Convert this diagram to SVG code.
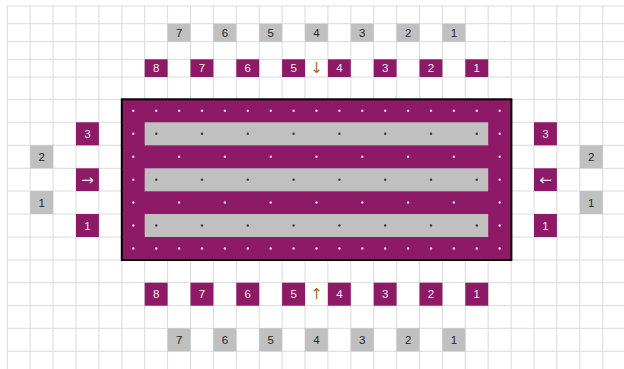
<svg xmlns="http://www.w3.org/2000/svg" xmlns:xlink="http://www.w3.org/1999/xlink" width="624" height="369" viewBox="0 0 624 369">
<style>
.grid{stroke:#dadada;stroke-width:1;fill:none}
.p{fill:#8e1a67}
.g{fill:#c0c0c0}
.tp{font-family:"Liberation Sans",Arial,sans-serif;font-size:11.5px;fill:#f4eaf0;text-anchor:middle;dominant-baseline:central}
.tg{font-family:"Liberation Sans",Arial,sans-serif;font-size:11.5px;fill:#262626;text-anchor:middle;dominant-baseline:central}
.ar{font-family:"DejaVu Sans",sans-serif;font-size:15px;fill:#a8692a;text-anchor:middle;dominant-baseline:central}
.arw{font-family:"DejaVu Sans",sans-serif;font-size:15px;fill:#f4eaf0;text-anchor:middle;dominant-baseline:central}
</style>
<defs>
<circle id="w" r="1.2" fill="#f2d6e6"/>
<circle id="d" r="1.2" fill="#3a3a3a"/>
</defs>
<rect width="624" height="369" fill="#ffffff"/>
<path class="grid" d="M7.3 6V369M30.2 6V369M53.1 6V369M76 6V369M98.9 6V369M121.8 6V369M144.7 6V369M167.6 6V369M190.5 6V369M213.4 6V369M236.3 6V369M259.2 6V369M282.1 6V369M305 6V369M327.9 6V369M350.8 6V369M373.7 6V369M396.6 6V369M419.5 6V369M442.4 6V369M465.3 6V369M488.2 6V369M511.1 6V369M534 6V369M556.9 6V369M579.8 6V369M602.7 6V369M7.3 6H624M7.3 23.7H624M7.3 41.7H624M7.3 59.3H624M7.3 77H624M7.3 99.3H624M7.3 122.3H624M7.3 145.3H624M7.3 168.3H624M7.3 191H624M7.3 214H624M7.3 237H624M7.3 260H624M7.3 282.7H624M7.3 305.7H624M7.3 328.3H624M7.3 351.3H624"/>

<g id="block">
<rect class="p" x="121.8" y="99.3" width="389.6" height="160.7" stroke="#000" stroke-width="2"/>
<rect class="g" x="144.7" y="122.3" width="343.5" height="23"/>
<rect class="g" x="144.7" y="168.3" width="343.5" height="23"/>
<rect class="g" x="144.7" y="214" width="343.5" height="23"/>
<g id="dots">
<use href="#w" x="133.3" y="110.8"/><use href="#w" x="156.2" y="110.8"/><use href="#w" x="179.1" y="110.8"/><use href="#w" x="202" y="110.8"/><use href="#w" x="224.9" y="110.8"/><use href="#w" x="247.8" y="110.8"/><use href="#w" x="270.7" y="110.8"/><use href="#w" x="293.6" y="110.8"/><use href="#w" x="316.5" y="110.8"/><use href="#w" x="339.4" y="110.8"/><use href="#w" x="362.3" y="110.8"/><use href="#w" x="385.2" y="110.8"/><use href="#w" x="408.1" y="110.8"/><use href="#w" x="431" y="110.8"/><use href="#w" x="453.9" y="110.8"/><use href="#w" x="476.8" y="110.8"/><use href="#w" x="499.7" y="110.8"/>
<use href="#w" x="133.3" y="248.5"/><use href="#w" x="156.2" y="248.5"/><use href="#w" x="179.1" y="248.5"/><use href="#w" x="202" y="248.5"/><use href="#w" x="224.9" y="248.5"/><use href="#w" x="247.8" y="248.5"/><use href="#w" x="270.7" y="248.5"/><use href="#w" x="293.6" y="248.5"/><use href="#w" x="316.5" y="248.5"/><use href="#w" x="339.4" y="248.5"/><use href="#w" x="362.3" y="248.5"/><use href="#w" x="385.2" y="248.5"/><use href="#w" x="408.1" y="248.5"/><use href="#w" x="431" y="248.5"/><use href="#w" x="453.9" y="248.5"/><use href="#w" x="476.8" y="248.5"/><use href="#w" x="499.7" y="248.5"/>
<use href="#w" x="133.3" y="156.8"/><use href="#w" x="179.1" y="156.8"/><use href="#w" x="224.9" y="156.8"/><use href="#w" x="270.7" y="156.8"/><use href="#w" x="316.5" y="156.8"/><use href="#w" x="362.3" y="156.8"/><use href="#w" x="408.1" y="156.8"/><use href="#w" x="453.9" y="156.8"/><use href="#w" x="499.7" y="156.8"/>
<use href="#w" x="133.3" y="202.5"/><use href="#w" x="179.1" y="202.5"/><use href="#w" x="224.9" y="202.5"/><use href="#w" x="270.7" y="202.5"/><use href="#w" x="316.5" y="202.5"/><use href="#w" x="362.3" y="202.5"/><use href="#w" x="408.1" y="202.5"/><use href="#w" x="453.9" y="202.5"/><use href="#w" x="499.7" y="202.5"/>
<use href="#w" x="133.3" y="133.8"/><use href="#w" x="499.7" y="133.8"/><use href="#w" x="133.3" y="179.7"/><use href="#w" x="499.7" y="179.7"/><use href="#w" x="133.3" y="225.5"/><use href="#w" x="499.7" y="225.5"/>
<use href="#d" x="156.2" y="133.8"/><use href="#d" x="202" y="133.8"/><use href="#d" x="247.8" y="133.8"/><use href="#d" x="293.6" y="133.8"/><use href="#d" x="339.4" y="133.8"/><use href="#d" x="385.2" y="133.8"/><use href="#d" x="431" y="133.8"/><use href="#d" x="476.8" y="133.8"/>
<use href="#d" x="156.2" y="179.7"/><use href="#d" x="202" y="179.7"/><use href="#d" x="247.8" y="179.7"/><use href="#d" x="293.6" y="179.7"/><use href="#d" x="339.4" y="179.7"/><use href="#d" x="385.2" y="179.7"/><use href="#d" x="431" y="179.7"/><use href="#d" x="476.8" y="179.7"/>
<use href="#d" x="156.2" y="225.5"/><use href="#d" x="202" y="225.5"/><use href="#d" x="247.8" y="225.5"/><use href="#d" x="293.6" y="225.5"/><use href="#d" x="339.4" y="225.5"/><use href="#d" x="385.2" y="225.5"/><use href="#d" x="431" y="225.5"/><use href="#d" x="476.8" y="225.5"/>
</g>
</g>

<g id="top-gray">
<rect class="g" x="167.6" y="23.7" width="22.9" height="18"/><text class="tg" x="179.1" y="32.9">7</text>
<rect class="g" x="213.4" y="23.7" width="22.9" height="18"/><text class="tg" x="224.9" y="32.9">6</text>
<rect class="g" x="259.2" y="23.7" width="22.9" height="18"/><text class="tg" x="270.7" y="32.9">5</text>
<rect class="g" x="305" y="23.7" width="22.9" height="18"/><text class="tg" x="316.5" y="32.9">4</text>
<rect class="g" x="350.8" y="23.7" width="22.9" height="18"/><text class="tg" x="362.3" y="32.9">3</text>
<rect class="g" x="396.6" y="23.7" width="22.9" height="18"/><text class="tg" x="408.1" y="32.9">2</text>
<rect class="g" x="442.4" y="23.7" width="22.9" height="18"/><text class="tg" x="453.9" y="32.9">1</text>
</g>

<g id="top-purple">
<rect class="p" x="144.7" y="59.3" width="22.9" height="17.7"/><text class="tp" x="156.2" y="68.4">8</text>
<rect class="p" x="190.5" y="59.3" width="22.9" height="17.7"/><text class="tp" x="202" y="68.4">7</text>
<rect class="p" x="236.3" y="59.3" width="22.9" height="17.7"/><text class="tp" x="247.8" y="68.4">6</text>
<rect class="p" x="282.1" y="59.3" width="22.9" height="17.7"/><text class="tp" x="293.6" y="68.4">5</text>
<text class="ar" x="316.5" y="68.4">↓</text>
<rect class="p" x="327.9" y="59.3" width="22.9" height="17.7"/><text class="tp" x="339.4" y="68.4">4</text>
<rect class="p" x="373.7" y="59.3" width="22.9" height="17.7"/><text class="tp" x="385.2" y="68.4">3</text>
<rect class="p" x="419.5" y="59.3" width="22.9" height="17.7"/><text class="tp" x="431" y="68.4">2</text>
<rect class="p" x="465.3" y="59.3" width="22.9" height="17.7"/><text class="tp" x="476.8" y="68.4">1</text>
</g>

<g id="left">
<rect class="p" x="76" y="122.3" width="22.9" height="23"/><text class="tp" x="87.5" y="134">3</text>
<rect class="g" x="30.2" y="145.3" width="22.9" height="23"/><text class="tg" x="41.7" y="157">2</text>
<rect class="p" x="76" y="168.3" width="22.9" height="22.7"/><text class="arw" x="87.5" y="179.6">→</text>
<rect class="g" x="30.2" y="191" width="22.9" height="23"/><text class="tg" x="41.7" y="202.7">1</text>
<rect class="p" x="76" y="214" width="22.9" height="23"/><text class="tp" x="87.5" y="225.7">1</text>
</g>

<g id="right">
<rect class="p" x="534" y="122.3" width="22.9" height="23"/><text class="tp" x="545.5" y="134">3</text>
<rect class="g" x="579.8" y="145.3" width="22.9" height="23"/><text class="tg" x="591.3" y="157">2</text>
<rect class="p" x="534" y="168.3" width="22.9" height="22.7"/><text class="arw" x="545.5" y="179.6">←</text>
<rect class="g" x="579.8" y="191" width="22.9" height="23"/><text class="tg" x="591.3" y="202.7">1</text>
<rect class="p" x="534" y="214" width="22.9" height="23"/><text class="tp" x="545.5" y="225.7">1</text>
</g>

<g id="bottom-purple">
<rect class="p" x="144.7" y="282.7" width="22.9" height="23"/><text class="tp" x="156.2" y="294.4">8</text>
<rect class="p" x="190.5" y="282.7" width="22.9" height="23"/><text class="tp" x="202" y="294.4">7</text>
<rect class="p" x="236.3" y="282.7" width="22.9" height="23"/><text class="tp" x="247.8" y="294.4">6</text>
<rect class="p" x="282.1" y="282.7" width="22.9" height="23"/><text class="tp" x="293.6" y="294.4">5</text>
<text class="ar" x="316.5" y="294.4">↑</text>
<rect class="p" x="327.9" y="282.7" width="22.9" height="23"/><text class="tp" x="339.4" y="294.4">4</text>
<rect class="p" x="373.7" y="282.7" width="22.9" height="23"/><text class="tp" x="385.2" y="294.4">3</text>
<rect class="p" x="419.5" y="282.7" width="22.9" height="23"/><text class="tp" x="431" y="294.4">2</text>
<rect class="p" x="465.3" y="282.7" width="22.9" height="23"/><text class="tp" x="476.8" y="294.4">1</text>
</g>

<g id="bottom-gray">
<rect class="g" x="167.6" y="328.3" width="22.9" height="23"/><text class="tg" x="179.1" y="340">7</text>
<rect class="g" x="213.4" y="328.3" width="22.9" height="23"/><text class="tg" x="224.9" y="340">6</text>
<rect class="g" x="259.2" y="328.3" width="22.9" height="23"/><text class="tg" x="270.7" y="340">5</text>
<rect class="g" x="305" y="328.3" width="22.9" height="23"/><text class="tg" x="316.5" y="340">4</text>
<rect class="g" x="350.8" y="328.3" width="22.9" height="23"/><text class="tg" x="362.3" y="340">3</text>
<rect class="g" x="396.6" y="328.3" width="22.9" height="23"/><text class="tg" x="408.1" y="340">2</text>
<rect class="g" x="442.4" y="328.3" width="22.9" height="23"/><text class="tg" x="453.9" y="340">1</text>
</g>
</svg>
